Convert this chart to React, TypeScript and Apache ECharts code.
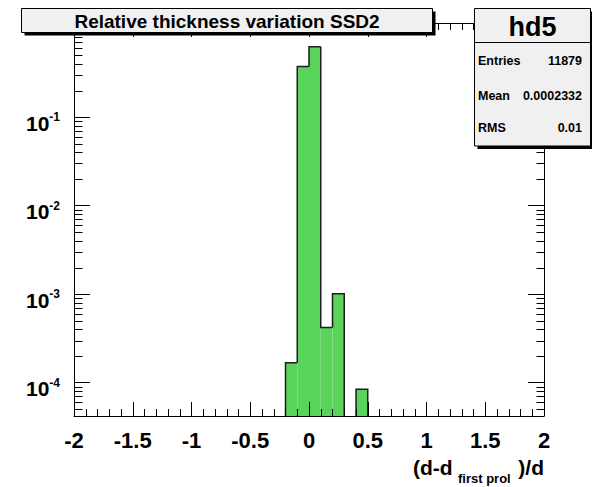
import React, { useEffect, useRef } from 'react';
import * as echarts from 'echarts';

// ---- data ----
const binLow = [-0.2, -0.1, 0.0, 0.1, 0.2, 0.4];
const binHigh = [-0.1, 0.0, 0.1, 0.2, 0.3, 0.5];
const binValues = [1.68e-4, 0.374, 0.624, 4.21e-4, 1.01e-3, 8.42e-5];

const xMin = -2;
const xMax = 2;
const xInterval = 0.5;
const yMin = 4.21e-5;
const yMax = 1.16;

const minorMantissas = [2, 3, 4, 5, 6, 7, 8, 9];
const decades = [-5, -4, -3, -2, -1, 0];

const titleText = 'Relative thickness variation SSD2';
const statsName = 'hd5';
const statsLabels = ['Entries', 'Mean', 'RMS'];
const statsValues = ['11879', '0.0002332', '0.01'];

const FONT = '"Liberation Sans", Arial, Helvetica, sans-serif';
const GREEN = '#5ad35a';

export default function App() {
  const ref = useRef<HTMLDivElement>(null);

  useEffect(() => {
    const chart = echarts.init(ref.current as HTMLDivElement, null, { renderer: 'svg' });

    const histData = binLow.map((lo, i) => [lo, binHigh[i], binValues[i]]);
    const minorData: number[][] = [];
    decades.forEach((d) => {
      minorMantissas.forEach((m) => {
        const v = m * Math.pow(10, d);
        if (v > yMin && v < yMax) minorData.push([0, v]);
      });
    });

    const yLabelFormatter = (v: number) => {
      const e = Math.log10(v);
      const r = Math.round(e);
      if (Math.abs(e - r) > 1e-6 || r >= 0) return '';
      return `{b|10}{s|${r}}`;
    };

    const axisLineStyle = { color: '#000', width: 1 };

    const xAxisBase = {
      type: 'value',
      min: xMin,
      max: xMax,
      interval: xInterval,
      z: 5,
      splitLine: { show: false },
      axisLine: { show: true, onZero: false, lineStyle: axisLineStyle },
      axisTick: { show: true, inside: true, length: 14, lineStyle: axisLineStyle },
      minorTick: { show: true, splitNumber: 5, length: 7, lineStyle: axisLineStyle },
      minorSplitLine: { show: false },
    };

    const yAxisBase = {
      type: 'log',
      logBase: 10,
      min: yMin,
      max: yMax,
      z: 5,
      splitLine: { show: false },
      axisLine: { show: true, onZero: false, lineStyle: axisLineStyle },
      axisTick: { show: true, inside: true, length: 16, lineStyle: axisLineStyle },
      minorTick: { show: false },
    };

    const option: any = {
      animation: false,
      backgroundColor: '#fff',
      grid: { left: 74, right: 48, top: 23, bottom: 71, containLabel: false, outerBoundsMode: 'none' },
      xAxis: [
        {
          ...xAxisBase,
          position: 'bottom',
          axisLabel: {
            show: true,
            margin: 13,
            fontSize: 22,
            fontWeight: 'bold',
            fontFamily: FONT,
            color: '#000',
          },
        },
        { ...xAxisBase, position: 'top', axisLabel: { show: false } },
      ],
      yAxis: [
        {
          ...yAxisBase,
          position: 'left',
          axisLabel: {
            show: true,
            margin: 14,
            formatter: yLabelFormatter,
            rich: {
              b: { fontSize: 21, fontWeight: 'bold', fontFamily: FONT, color: '#000', padding: [12, 0, 0, 0] },
              s: { fontSize: 12, fontWeight: 'bold', fontFamily: FONT, color: '#000' },
            },
          },
        },
        { ...yAxisBase, position: 'right', axisLabel: { show: false } },
      ],
      series: [
        {
          type: 'custom',
          name: 'hd5',
          coordinateSystem: 'cartesian2d',
          xAxisIndex: 0,
          yAxisIndex: 0,
          z: 1,
          encode: { x: [0, 1], y: 2 },
          data: histData,
          renderItem: (params: any, api: any) => {
            const i = params.dataIndex;
            const x0 = api.value(0);
            const x1 = api.value(1);
            const v = api.value(2);
            const tl = api.coord([x0, v]);
            const br = api.coord([x1, yMin]);
            const prevAdj = i > 0 && Math.abs(binHigh[i - 1] - x0) < 1e-9;
            const nextAdj = i < binLow.length - 1 && Math.abs(binLow[i + 1] - x1) < 1e-9;
            const leftBottomY = prevAdj ? api.coord([x0, binValues[i - 1]])[1] : br[1];
            const pts: number[][] = [
              [tl[0], leftBottomY],
              [tl[0], tl[1]],
              [br[0], tl[1]],
            ];
            if (!nextAdj) pts.push([br[0], br[1]]);
            return {
              type: 'group',
              children: [
                {
                  type: 'rect',
                  shape: { x: tl[0], y: tl[1], width: br[0] - tl[0], height: br[1] - tl[1] },
                  style: { fill: GREEN },
                },
                {
                  type: 'polyline',
                  shape: { points: pts },
                  style: { stroke: '#1e1e1e', lineWidth: 1.5, fill: null },
                },
              ],
            };
          },
        },
        {
          type: 'custom',
          name: 'minorTicks',
          coordinateSystem: 'cartesian2d',
          xAxisIndex: 0,
          yAxisIndex: 0,
          z: 6,
          silent: true,
          encode: { x: 0, y: 1 },
          data: minorData,
          renderItem: (params: any, api: any) => {
            const v = api.value(1);
            const l = api.coord([xMin, v]);
            const r = api.coord([xMax, v]);
            const y = Math.round(l[1]) + 0.5;
            const lx = Math.round(l[0]) + 0.5;
            const rx = Math.round(r[0]) + 0.5;
            return {
              type: 'group',
              children: [
                { type: 'line', shape: { x1: lx, y1: y, x2: lx + 8, y2: y }, style: { stroke: '#000', lineWidth: 1 } },
                { type: 'line', shape: { x1: rx - 8, y1: y, x2: rx, y2: y }, style: { stroke: '#000', lineWidth: 1 } },
              ],
            };
          },
        },
      ],
      graphic: [
        // title box
        { type: 'rect', z: 100, shape: { x: 24.5, y: 11.5, width: 411, height: 24 }, style: { fill: '#000' } },
        {
          type: 'rect',
          z: 101,
          shape: { x: 21.5, y: 8.5, width: 411, height: 24 },
          style: { fill: '#f0f0f0', stroke: '#000', lineWidth: 1 },
        },
        {
          type: 'text',
          z: 102,
          x: 227,
          y: 21.5,
          style: {
            text: titleText,
            fontSize: 19,
            fontWeight: 'bold',
            fontFamily: FONT,
            fill: '#000',
            align: 'center',
            verticalAlign: 'middle',
          },
        },
        // stats box
        { type: 'rect', z: 100, shape: { x: 477.5, y: 11.5, width: 116, height: 137.5 }, style: { fill: '#000' } },
        {
          type: 'rect',
          z: 101,
          shape: { x: 474.5, y: 8.5, width: 116, height: 137.5 },
          style: { fill: '#f0f0f0', stroke: '#000', lineWidth: 1 },
        },
        {
          type: 'line',
          z: 102,
          shape: { x1: 474.5, y1: 42.5, x2: 590.5, y2: 42.5 },
          style: { stroke: '#000', lineWidth: 1 },
        },
        {
          type: 'text',
          z: 102,
          x: 532.5,
          y: 26.5,
          style: {
            text: statsName,
            fontSize: 27,
            fontWeight: 'bold',
            fontFamily: FONT,
            fill: '#000',
            align: 'center',
            verticalAlign: 'middle',
          },
        },
        ...statsLabels.map((t, i) => ({
          type: 'text',
          z: 102,
          x: 478,
          y: [60.5, 96, 127.5][i],
          style: {
            text: t,
            fontSize: 12.5,
            fontWeight: 'bold',
            fontFamily: FONT,
            fill: '#000',
            align: 'left',
            verticalAlign: 'middle',
          },
        })),
        ...statsValues.map((t, i) => ({
          type: 'text',
          z: 102,
          x: 582,
          y: [60.5, 96, 127.5][i],
          style: {
            text: t,
            fontSize: 12.5,
            fontWeight: 'bold',
            fontFamily: FONT,
            fill: '#000',
            align: 'right',
            verticalAlign: 'middle',
          },
        })),
        // x axis title
        {
          type: 'text',
          z: 102,
          x: 413,
          y: 467,
          style: {
            text: '(d-d',
            fontSize: 21,
            fontWeight: 'bold',
            fontFamily: FONT,
            fill: '#000',
            align: 'left',
            verticalAlign: 'middle',
          },
        },
        {
          type: 'text',
          z: 102,
          x: 458,
          y: 478.5,
          style: {
            text: 'first prol',
            fontSize: 13,
            fontWeight: 'bold',
            fontFamily: FONT,
            fill: '#000',
            align: 'left',
            verticalAlign: 'middle',
          },
        },
        {
          type: 'text',
          z: 102,
          x: 544,
          y: 467,
          style: {
            text: ')/d',
            fontSize: 21,
            fontWeight: 'bold',
            fontFamily: FONT,
            fill: '#000',
            align: 'right',
            verticalAlign: 'middle',
          },
        },
      ],
    };

    chart.setOption(option);
    return () => chart.dispose();
  }, []);

  return (
    <div
      ref={ref}
      style={{ position: 'fixed', left: 0, top: 0, width: 592, height: 487, background: '#fff' }}
    />
  );
}
